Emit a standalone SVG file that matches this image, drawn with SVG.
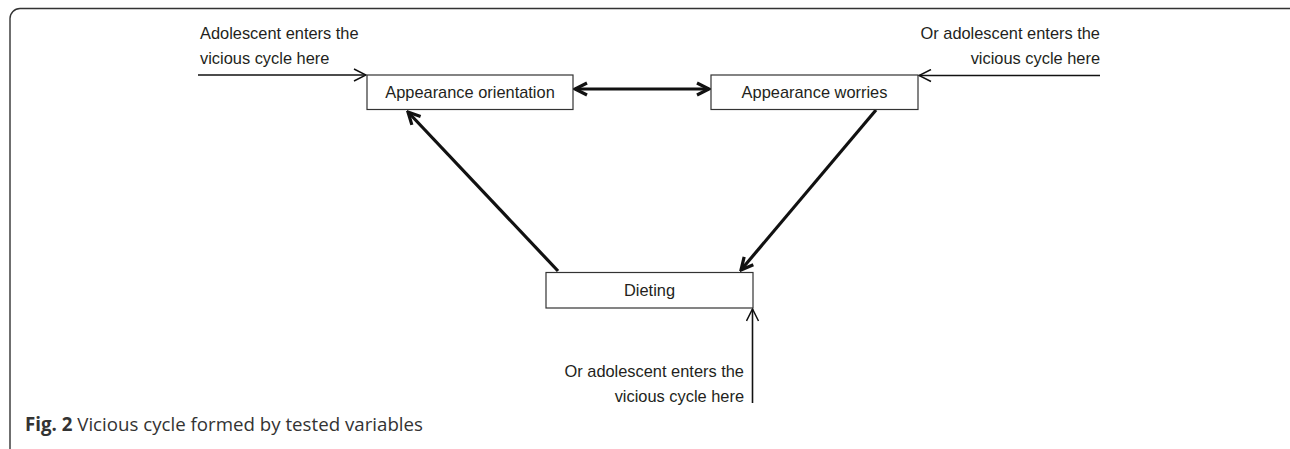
<svg xmlns="http://www.w3.org/2000/svg" width="1290" height="449" viewBox="0 0 1290 449">
<style>
.box{fill:#fff;stroke:#333;stroke-width:1.2}
.lbl{font-family:"Liberation Sans",Arial,sans-serif;font-size:16.4px;fill:#231f20}
.thin{stroke:#111;stroke-width:1.6;fill:none}
.thick{stroke:#111;stroke-width:3.2;fill:none}
.cap{font-family:"Open Sans","Noto Sans",sans-serif;font-size:18.7px;fill:#333}
</style>
<defs>
<marker id="ht" viewBox="0 0 14 14" refX="13" refY="7" markerWidth="14" markerHeight="14" markerUnits="userSpaceOnUse" orient="auto-start-reverse">
<path d="M1,1 L13,7 L1,13" fill="none" stroke="#111" stroke-width="1.5"/>
</marker>
<marker id="hk" viewBox="0 0 16 16" refX="14" refY="8" markerWidth="16" markerHeight="16" markerUnits="userSpaceOnUse" orient="auto-start-reverse">
<path d="M2,2 L14,8 L2,14" fill="none" stroke="#111" stroke-width="3.2" stroke-linejoin="miter"/>
</marker>
</defs>
<rect x="10" y="8.5" width="1300" height="450" rx="10" fill="none" stroke="#333" stroke-width="1.4"/>
<g id="connectors">
<line class="thin" x1="198" y1="75" x2="366" y2="75" marker-end="url(#ht)"/>
<line class="thin" x1="1100" y1="75.5" x2="919" y2="75.5" marker-end="url(#ht)"/>
<line class="thin" x1="752.5" y1="403" x2="752.5" y2="309" marker-end="url(#ht)"/>
<line class="thick" x1="575" y1="89" x2="709" y2="89" marker-start="url(#hk)" marker-end="url(#hk)"/>
<line class="thick" x1="558" y1="271" x2="408" y2="112" marker-end="url(#hk)"/>
<line class="thick" x1="876" y1="110" x2="741" y2="270" marker-end="url(#hk)"/>
</g>
<g id="node-orientation">
<rect class="box" x="367" y="75" width="206" height="34.5"/>
<text class="lbl" x="470" y="97.5" text-anchor="middle">Appearance orientation</text>
</g>
<g id="node-worries">
<rect class="box" x="711" y="75" width="207" height="34.5"/>
<text class="lbl" x="814.5" y="97.5" text-anchor="middle">Appearance worries</text>
</g>
<g id="node-dieting">
<rect class="box" x="546" y="272.5" width="207" height="35.5"/>
<text class="lbl" x="649.5" y="296" text-anchor="middle">Dieting</text>
</g>
<g id="entry-left">
<text class="lbl" x="200" y="39">Adolescent enters the</text>
<text class="lbl" x="200" y="64">vicious cycle here</text>
</g>
<g id="entry-right">
<text class="lbl" x="1100" y="39" text-anchor="end">Or adolescent enters the</text>
<text class="lbl" x="1100" y="64" text-anchor="end">vicious cycle here</text>
</g>
<g id="entry-bottom">
<text class="lbl" x="744" y="377" text-anchor="end">Or adolescent enters the</text>
<text class="lbl" x="744" y="402" text-anchor="end">vicious cycle here</text>
</g>
<text class="cap" x="25" y="431"><tspan font-weight="bold">Fig. 2</tspan> Vicious cycle formed by tested variables</text>
</svg>
